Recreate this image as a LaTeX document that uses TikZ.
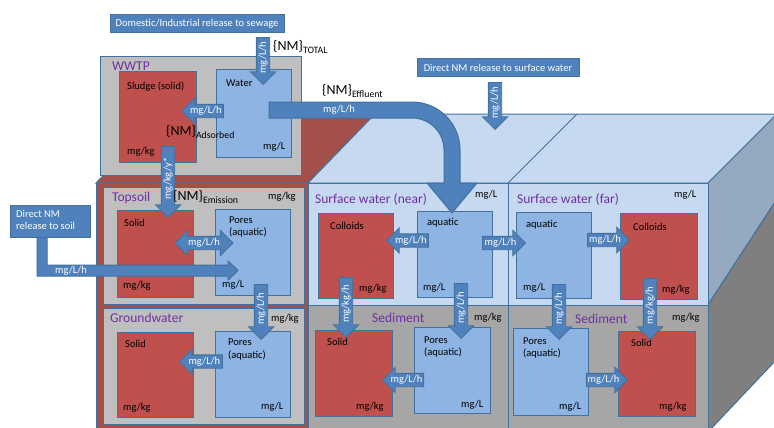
\documentclass[tikz,border=0pt]{standalone}
\usepackage{fontspec}
\setmainfont{Carlito}
\usetikzlibrary{shapes.arrows}

\definecolor{boxblue}{HTML}{4F81BD}
\definecolor{edgeblue}{HTML}{41719C}
\definecolor{solidred}{HTML}{C0504D}
\definecolor{porelight}{HTML}{8DB4E2}
\definecolor{waterface}{HTML}{C6D9F1}
\definecolor{soilgray}{HTML}{BFBFBF}
\definecolor{sedgray}{HTML}{A6A6A6}
\definecolor{soilred}{HTML}{A3504D}
\definecolor{sidewater}{HTML}{95A9BF}
\definecolor{sidesed}{HTML}{7F7F7F}
\definecolor{labpurple}{HTML}{7030A0}

\newcommand\smallfont{\fontsize{10.5}{12.5}\selectfont}
\newcommand\labfont{\fontsize{13.5}{15}\selectfont}
\newcommand\nmfont{\fontsize{14}{16}\selectfont}

\tikzset{
  box/.style={draw=edgeblue, line width=1pt},
  txt/.style={anchor=west, inner sep=0pt, font=\smallfont},
  compname/.style={anchor=west, inner sep=0pt, font=\labfont, text=labpurple},
  nmlab/.style={anchor=west, inner sep=0pt, font=\nmfont},
  flow/.style={single arrow, draw=edgeblue, line width=0.8pt, fill=boxblue, text=white,
    font=\smallfont, inner xsep=1pt, inner ysep=1.5pt, text height=7.5pt, text depth=2pt,
    single arrow head extend=6pt, minimum height=#1, anchor=tip},
  downflow/.style={flow=#1, rotate=90, shape border rotate=180},
}

\begin{document}
\begin{tikzpicture}[x=1pt,y=-1pt]
\useasboundingbox (0,0) rectangle (774,428);
\clip (0,0) rectangle (774,428);

% top and side faces of the block
\draw[box, fill=soilred] (96,183) -- (163,114) -- (375,114) -- (308,183) -- cycle;
\draw[box, fill=waterface] (308,183) -- (375,114) -- (777,114) -- (708,183) -- cycle;
\draw[box] (508,183) -- (577,114);
\draw[box, fill=sidewater] (708,183) -- (777,114) -- (777,199) -- (708,305) -- cycle;
\draw[box, fill=sidesed] (708,305) -- (777,199) -- (777,359) -- (708,432) -- cycle;

% front faces
\draw[box, fill=soilred] (96,183) rectangle (308,432);
\draw[box, fill=waterface] (308,183) rectangle (508,305);
\draw[box, fill=waterface] (508,183) rectangle (708,305);
\draw[box, fill=sedgray] (308,305) rectangle (508,432);
\draw[box, fill=sedgray] (508,305) rectangle (708,432);
\draw[box, fill=soilgray] (103,187) rectangle (304,304);
\draw[box, fill=soilgray] (103,308) rectangle (304,424);

% WWTP
\draw[box, fill=soilgray] (100,57) rectangle (301,175);
\draw[box, fill=solidred] (119,72) rectangle (196,162);
\draw[box, fill=porelight] (216,70) rectangle (291,157);

% compartments
\draw[box, fill=solidred] (117,210) rectangle (193,297);
\draw[box, fill=porelight] (215,209) rectangle (290,295);
\draw[box, fill=solidred] (117,332) rectangle (193,417);
\draw[box, fill=porelight] (215,331) rectangle (290,417);
\draw[box, fill=solidred] (318,213) rectangle (393,298);
\draw[box, fill=porelight] (417,211) rectangle (492,297);
\draw[box, fill=solidred] (315,330) rectangle (392,416);
\draw[box, fill=porelight] (414,327) rectangle (490,413);
\draw[box, fill=porelight] (516,212) rectangle (591,298);
\draw[box, fill=solidred] (620,213) rectangle (697,299);
\draw[box, fill=porelight] (513,328) rectangle (588,415);
\draw[box, fill=solidred] (618,331) rectangle (695,416);

% release sources
\draw[box, fill=boxblue] (110,15) rectangle (284,33);
\node[font=\smallfont, text=white] (sewage) at (197,24) {Domestic/Industrial release to sewage};
\draw[box, fill=boxblue] (417,59) rectangle (579,77);
\node[font=\smallfont, text=white] (surfrel) at (498,68) {Direct NM release to surface water};
\draw[box, fill=boxblue] (37,230) -- (47,230) -- (47,265) -- (228,265) -- (228,261) -- (238,270.5)
  -- (228,280) -- (228,276) -- (37,276) -- cycle;
\node[txt, text=white] (soilflow) at (55,270.5) {mg/L/h};
\draw[box, fill=boxblue] (10,205) rectangle (90,237);
\node[txt, text=white, align=left] (soilrel) at (16,220) {Direct NM\\release to soil};

% labels
\node[compname] (wwtp) at (112,66) {WWTP};
\node[txt] (sludge) at (127,87) {Sludge (solid)};
\node[txt] (sludgeu) at (127,152) {mg/kg};
\node[txt] (water) at (226,83) {Water};
\node[txt] (wateru) at (263,147) {mg/L};

\node[compname] (topsoil) at (112,198) {Topsoil};
\node[txt] (topsoilu) at (268,197) {mg/kg};
\node[txt] (tsolid) at (124,223) {Solid};
\node[txt] (tsolidu) at (123,286) {mg/kg};
\node[txt, align=left] (tpores) at (229,227) {Pores\\(aquatic)};
\node[txt] (tporesu) at (222,285) {mg/L};

\node[compname] (gw) at (110,318) {Groundwater};
\node[txt] (gwu) at (271,319) {mg/kg};
\node[txt] (gsolid) at (125,344) {Solid};
\node[txt] (gsolidu) at (123,408) {mg/kg};
\node[txt, align=left] (gpores) at (228,349.5) {Pores\\(aquatic)};
\node[txt] (gporesu) at (261,407) {mg/L};

\node[compname] (swnear) at (315,199) {Surface water (near)};
\node[txt] (swnearu) at (475,195) {mg/L};
\node[txt] (ncoll) at (330,226) {Colloids};
\node[txt] (ncollu) at (359,289) {mg/kg};
\node[txt] (naq) at (427,223) {aquatic};
\node[txt] (naqu) at (423,288) {mg/L};

\node[compname] (sednear) at (372,318) {Sediment};
\node[txt] (sednearu) at (474,318) {mg/kg};
\node[txt] (nsolid) at (327,342) {Solid};
\node[txt] (nsolidu) at (356,407) {mg/kg};
\node[txt, align=left] (npores) at (424,347) {Pores\\(aquatic)};
\node[txt] (nporesu) at (461,405) {mg/L};

\node[compname] (swfar) at (517,199) {Surface water (far)};
\node[txt] (swfaru) at (674,195) {mg/L};
\node[txt] (faq) at (526,225) {aquatic};
\node[txt] (faqu) at (523,288) {mg/L};
\node[txt] (fcoll) at (633,227) {Colloids};
\node[txt] (fcollu) at (662,290) {mg/kg};

\node[compname] (sedfar) at (575,319) {Sediment};
\node[txt] (sedfaru) at (672,318) {mg/kg};
\node[txt, align=left] (fpores) at (523,348) {Pores\\(aquatic)};
\node[txt] (fporesu) at (559,407) {mg/L};
\node[txt] (fsolid) at (631,343) {Solid};
\node[txt] (fsolidu) at (659,407) {mg/kg};

% effluent to surface water
\draw[box, fill=boxblue] (269,102) -- (412,102) .. controls (438.5,102) and (460,123.5) .. (460,150)
  -- (460,183) -- (477,183) -- (452,213) -- (427,183) -- (444,183) -- (444,150)
  .. controls (444,132.3) and (429.7,118) .. (412,118) -- (269,118) -- cycle;
\node[txt, text=white] (effflow) at (323,110) {mg/L/h};

% fluxes
\node[downflow=47pt] (intotal) at (263,85) {mg/L/h};
\node[flow=42pt, shape border rotate=180] (toadsorb) at (181,111) {mg/L/h};
\node[downflow=71pt] (toemis) at (168,218) {mg/kg/y*};
\node[downflow=47pt] (insurf) at (495,130) {mg/L/h};
\node[double arrow, draw=edgeblue, line width=0.8pt, fill=boxblue, text=white, font=\smallfont,
  inner xsep=1pt, inner ysep=1.5pt, text height=7.5pt, text depth=2pt,
  double arrow head extend=6pt, minimum height=58pt] (texch) at (204,243) {mg/L/h};
\node[downflow=55pt] (tleach) at (261,340) {mg/L/h};
\node[flow=43pt, shape border rotate=180] (gsorb) at (179,361.5) {mg/L/h};
\node[flow=42pt, shape border rotate=180] (nsorb) at (386,240.5) {mg/L/h};
\node[flow=43pt] (nfar) at (526,243) {mg/L/h};
\node[flow=42pt] (fsorb) at (630,240) {mg/L/h};
\node[downflow=60pt] (nsettle) at (346,338) {mg/kg/h};
\node[downflow=55pt] (npdown) at (461,339) {mg/L/h};
\node[downflow=55pt] (fpdown) at (559,340) {mg/L/h};
\node[downflow=61pt] (fsettle) at (650,340) {mg/kg/h};
\node[flow=41pt, shape border rotate=180] (snsorb) at (382,380) {mg/L/h};
\node[flow=41pt] (sfsorb) at (628,380) {mg/L/h};

% NM labels
\node[nmlab] (nmtotal) at (273,47) {\{NM\}\textsubscript{TOTAL}};
\node[nmlab] (nmeff) at (322,91) {\{NM\}\textsubscript{Effluent}};
\node[nmlab] (nmads) at (166,132) {\{NM\}\textsubscript{Adsorbed}};
\node[nmlab] (nmemis) at (173,197) {\{NM\}\textsubscript{Emission}};
\end{tikzpicture}
\end{document}
